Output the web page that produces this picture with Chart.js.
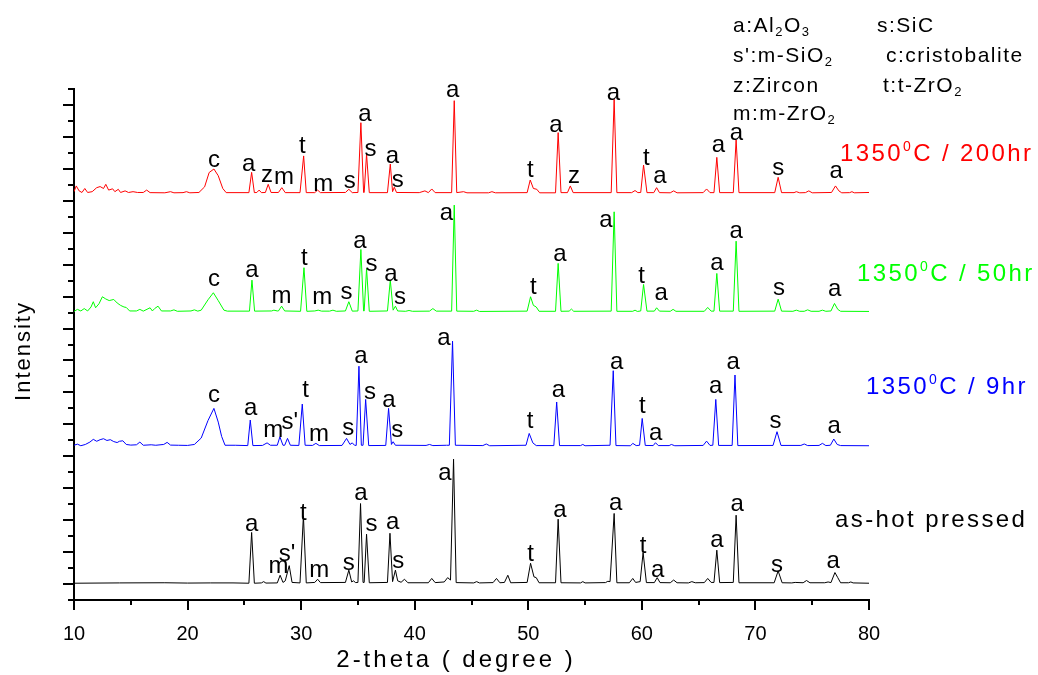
<!DOCTYPE html>
<html>
<head>
<meta charset="utf-8">
<script src="https://cdn.jsdelivr.net/npm/chart.js@4.4.1/dist/chart.umd.min.js"></script>
<style>
  body { margin: 0; background: #fff; }
  canvas { display: block; }
</style>
</head>
<body>
<canvas id="xrdChart" width="1038" height="675"></canvas>
<script>
// X-ray patterns, [2-theta, intensity above the trace's own baseline]
const asHotPressed = [
  [10,0],[14,0.02],[18,0.03],[20,0.01],[22,0.02],[24,0.02],[25.4,0],[25.64,3.18],[25.88,0],
  [26.5,0.02],[26.7,0.1],[26.9,0.01],[27.9,0.02],[28.15,0.5],[28.4,0.05],[28.6,0.15],[28.95,1.1],
  [29.2,0.05],[29.9,0.02],[30.2,4.22],[30.45,0.02],[31.2,0.05],[31.45,0.25],[31.7,0.04],[33.9,0.05],
  [34.2,0.82],[34.45,0.08],[34.6,0.15],[34.8,0.04],[35.0,0.05],[35.23,4.99],[35.45,0.05],[35.55,0.05],
  [35.76,3.07],[36.0,0.03],[37.6,0.05],[37.82,3.13],[38.05,0.1],[38.3,0.82],[38.5,0.15],[38.8,0.06],
  [39.1,0.25],[39.4,0.03],[41.2,0.03],[41.5,0.3],[41.8,0.04],[42.6,0.08],[42.9,0.35],[43.15,0.2],
  [43.42,7.77],[43.65,0.04],[45.2,0.02],[45.45,0.1],[45.7,0.02],[46.9,0.04],[47.2,0.3],[47.5,0.03],
  [47.9,0.05],[48.2,0.5],[48.45,0.03],[49.9,0.05],[50.2,1.25],[50.5,0.4],[50.7,0.35],[50.95,0.03],
  [52.4,0.03],[52.63,4.01],[52.88,0.03],[54.6,0.02],[54.8,0.1],[55.0,0.02],[56.8,0.04],[57.0,0.12],
  [57.2,0.1],[57.56,4.37],[57.8,0.03],[58.9,0.03],[59.2,0.3],[59.45,0.05],[59.85,0.1],[60.11,1.92],
  [60.4,0.04],[61.1,0.04],[61.35,0.35],[61.6,0.04],[62.5,0.03],[62.8,0.2],[63.1,0.03],[64.1,0.02],
  [64.4,0.1],[64.7,0.03],[65.5,0.04],[65.8,0.3],[66.1,0.05],[66.35,0.05],[66.6,2.07],[66.85,0.04],
  [68.05,0.05],[68.3,4.26],[68.55,0.03],[71.65,0.03],[72.0,0.77],[72.35,0.03],[73.2,0.02],[73.5,0.05],
  [74.2,0.03],[74.5,0.17],[74.8,0.03],[76.1,0.03],[76.4,0.08],[76.65,0.04],[77.0,0.67],[77.25,0.35],
  [77.5,0.03],[78.2,0.03],[78.4,0.08],[78.6,0.02],[80,0]
];

const at1350For9h = [
  [10,0.05],[10.3,0.12],[10.6,0.02],[11.0,0.1],[11.4,0.25],[11.7,0.42],[12.0,0.3],[12.3,0.4],[12.6,0.46],
  [12.9,0.35],[13.2,0.4],[13.5,0.28],[13.8,0.22],[14.0,0.3],[14.3,0.33],[14.6,0.1],[15.0,0.06],[15.5,0.08],
  [15.8,0.25],[16.1,0.05],[16.8,0.08],[17.2,0.05],[17.9,0.1],[18.2,0.23],[18.5,0.06],[19.2,0.05],[20.0,0.04],
  [20.6,0.1],[21.2,0.5],[21.8,1.6],[22.32,2.36],[22.7,1.5],[23.0,0.6],[23.3,0.05],[24.2,0.05],[25.3,0.03],
  [25.52,1.63],[25.75,0.03],[26.6,0.04],[27.0,0.2],[27.3,0.05],[27.9,0.05],[28.13,0.58],[28.4,0.05],
  [28.55,0.05],[28.8,0.48],[29.05,0.05],[29.8,0.04],[30.1,2.63],[30.35,0.05],[31.0,0.04],[31.3,0.17],
  [31.6,0.03],[33.6,0.04],[34.0,0.48],[34.3,0.1],[34.5,0.2],[34.7,0.05],[34.85,0.04],[35.09,5.0],[35.3,0.05],
  [35.45,0.05],[35.68,2.92],[35.95,0.03],[37.45,0.04],[37.7,2.36],[37.95,0.1],[38.1,0.27],[38.3,0.05],
  [41.0,0.04],[41.3,0.1],[41.6,0.03],[42.8,0.05],[43.05,0.05],[43.33,6.57],[43.58,0.05],[46.0,0.03],
  [46.3,0.13],[46.6,0.02],[49.8,0.05],[50.08,0.79],[50.4,0.2],[50.7,0.03],[52.25,0.03],[52.5,2.76],
  [52.75,0.03],[54.6,0.03],[54.8,0.1],[55.0,0.02],[57.2,0.05],[57.48,4.72],[57.72,0.03],[59.0,0.02],
  [59.2,0.17],[59.5,0.03],[59.8,0.05],[60.03,1.73],[60.3,0.04],[61.0,0.03],[61.2,0.21],[61.45,0.03],
  [62.4,0.03],[62.6,0.1],[62.9,0.02],[65.4,0.04],[65.7,0.31],[66.0,0.04],[66.25,0.05],[66.51,2.92],
  [66.76,0.04],[67.95,0.04],[68.2,4.45],[68.45,0.03],[71.55,0.04],[71.9,0.9],[72.25,0.04],[74.0,0.04],
  [74.3,0.13],[74.6,0.03],[75.6,0.04],[75.9,0.17],[76.2,0.03],[76.6,0.05],[76.9,0.44],[77.2,0.1],
  [77.5,0.03],[80,0.02]
];

const at1350For50h = [
  [10,0.02],[10.3,0.15],[10.6,0.05],[10.9,0.2],[11.2,0.05],[11.5,0.3],[11.7,0.63],[11.9,0.25],[12.2,0.5],
  [12.5,0.94],[12.8,0.8],[13.1,0.7],[13.5,0.77],[13.8,0.55],[14.1,0.4],[14.4,0.3],[14.6,0.27],[14.9,0.05],
  [15.5,0.05],[15.8,0.15],[16.1,0.04],[16.7,0.25],[16.9,0.05],[17.1,0.2],[17.4,0.35],[17.7,0.05],[18.5,0.05],
  [18.8,0.12],[19.1,0.03],[20.3,0.05],[20.6,0.12],[20.9,0.04],[21.2,0.1],[21.8,0.75],[22.27,1.19],[22.7,0.7],
  [23.2,0.1],[23.5,0.04],[25.45,0.04],[25.67,1.98],[25.9,0.04],[27.4,0.05],[27.6,0.1],[27.9,0.05],[28.0,0.05],
  [28.28,0.35],[28.55,0.05],[29.95,0.03],[30.25,2.76],[30.5,0.03],[31.2,0.05],[31.5,0.1],[31.8,0.04],
  [32.5,0.04],[32.8,0.1],[33.1,0.03],[33.9,0.05],[34.2,0.63],[34.5,0.04],[35.0,0.05],[35.26,3.9],[35.5,0.05],
  [35.55,0.05],[35.76,2.71],[36.0,0.03],[37.6,0.05],[37.85,1.98],[38.1,0.1],[38.3,0.35],[38.5,0.05],
  [39.2,0.03],[39.5,0.08],[39.8,0.03],[41.3,0.04],[41.6,0.2],[41.9,0.04],[43.25,0.04],[43.48,6.68],
  [43.7,0.04],[45.2,0.03],[45.45,0.1],[45.7,0.02],[49.9,0.04],[50.2,0.94],[50.45,0.4],[50.7,0.3],
  [50.95,0.03],[52.4,0.03],[52.63,3.03],[52.88,0.03],[53.6,0.04],[53.8,0.17],[54.0,0.03],[57.3,0.04],
  [57.56,6.26],[57.8,0.03],[59.2,0.03],[59.4,0.1],[59.6,0.02],[59.9,0.05],[60.15,1.71],[60.45,0.04],
  [61.1,0.04],[61.3,0.25],[61.55,0.04],[62.5,0.03],[62.75,0.15],[63.0,0.03],[65.5,0.03],[65.8,0.27],
  [66.1,0.04],[66.35,0.04],[66.6,2.4],[66.85,0.04],[68.05,0.04],[68.3,4.42],[68.55,0.03],[71.7,0.04],
  [72.0,0.79],[72.3,0.04],[73.3,0.03],[73.6,0.1],[73.9,0.03],[74.3,0.03],[74.6,0.12],[74.9,0.03],
  [75.6,0.03],[75.9,0.1],[76.2,0.03],[76.65,0.05],[76.96,0.52],[77.25,0.15],[77.5,0.03],[80,0.02]
];

const at1350For200h = [
  [10,0.1],[10.2,0.46],[10.45,0.15],[10.7,0.05],[10.95,0.3],[11.2,0.05],[11.6,0.1],[12.0,0.35],[12.3,0.42],
  [12.6,0.3],[12.8,0.56],[13.05,0.2],[13.4,0.28],[13.6,0.1],[13.9,0.25],[14.1,0.05],[14.5,0.15],[14.8,0.05],
  [15.2,0.1],[15.6,0.05],[16.1,0.05],[16.4,0.2],[16.7,0.04],[18.0,0.03],[18.5,0.1],[18.8,0.03],[19.6,0.04],
  [19.9,0.1],[20.2,0.03],[21.0,0.05],[21.5,0.4],[21.9,1.3],[22.32,1.52],[22.7,1.1],[23.1,0.3],[23.4,0.04],
  [25.4,0.04],[25.64,1.31],[25.88,0.04],[26.1,0.05],[26.3,0.2],[26.5,0.04],[26.85,0.05],[27.1,0.56],
  [27.35,0.05],[28.0,0.05],[28.3,0.35],[28.6,0.04],[29.9,0.04],[30.22,2.34],[30.45,0.04],[31.2,0.04],
  [31.45,0.2],[31.7,0.04],[33.9,0.05],[34.2,0.25],[34.5,0.04],[35.0,0.05],[35.26,4.42],[35.5,0.05],
  [35.55,0.05],[35.76,2.46],[36.0,0.04],[37.6,0.04],[37.85,1.83],[38.05,0.1],[38.2,0.38],[38.4,0.05],
  [40.4,0.04],[40.9,0.15],[41.2,0.04],[41.5,0.27],[41.8,0.04],[43.25,0.04],[43.48,5.8],[43.7,0.04],
  [44.3,0.1],[44.6,0.03],[46.5,0.03],[46.8,0.1],[47.1,0.03],[49.9,0.04],[50.17,0.83],[50.45,0.3],
  [50.75,0.25],[51.0,0.03],[52.4,0.03],[52.63,3.8],[52.88,0.04],[53.45,0.04],[53.7,0.46],[53.95,0.04],
  [57.3,0.04],[57.56,5.89],[57.8,0.04],[59.1,0.04],[59.4,0.17],[59.65,0.04],[59.9,0.05],[60.15,1.77],
  [60.45,0.04],[61.05,0.04],[61.3,0.35],[61.55,0.04],[62.5,0.03],[62.8,0.15],[63.1,0.03],[65.4,0.04],
  [65.7,0.27],[66.0,0.04],[66.35,0.04],[66.6,2.25],[66.85,0.04],[68.05,0.04],[68.3,3.34],[68.55,0.04],
  [71.7,0.04],[72.0,1.0],[72.3,0.04],[73.4,0.04],[73.6,0.1],[73.9,0.03],[74.4,0.04],[74.7,0.15],
  [75.0,0.03],[76.7,0.05],[77.05,0.46],[77.35,0.15],[77.6,0.03],[78.3,0.04],[78.5,0.1],[78.7,0.03],[80,0.05]
];

// Peak labels, [2-theta, height above baseline, phase letter]
const hotPressedLabels = [
  [25.64,3.27,'a'],[28.0,0.63,'m'],[28.75,1.4,"s'"],[30.2,3.96,'t'],[31.6,0.41,'m'],[34.2,0.83,'s'],
  [35.26,5.22,'a'],[36.2,3.27,'s'],[38.05,3.4,'a'],[38.55,0.94,'s'],[42.66,6.47,'a'],[50.2,1.4,'t'],
  [52.78,4.17,'a'],[57.7,4.59,'a'],[60.1,1.88,'t'],[61.4,0.38,'a'],[66.6,2.29,'a'],[68.4,4.5,'a'],
  [71.9,0.73,'s'],[76.85,0.94,'a']
];
const labels9h = [
  [22.33,2.77,'c'],[25.56,1.94,'a'],[27.55,0.54,'m'],[29.0,1.05,"s'"],[30.4,3.09,'t'],[31.57,0.31,'m'],
  [34.15,0.69,'s'],[35.27,5.18,'a'],[36.06,2.92,'s'],[37.74,2.46,'a'],[38.47,0.54,'s'],[42.58,6.32,'a'],
  [50.15,1.11,'t'],[52.65,3.09,'a'],[57.78,4.8,'a'],[60.04,2.09,'t'],[61.22,0.38,'a'],[66.5,3.3,'a'],
  [68.05,4.8,'a'],[71.77,1.11,'s'],[76.94,0.83,'a']
];
const labels50h = [
  [22.33,1.61,'c'],[25.67,2.15,'a'],[28.28,0.53,'m'],[30.28,2.92,'t'],[31.86,0.48,'m'],[34.0,0.78,'s'],
  [35.18,3.97,'a'],[36.2,2.55,'s'],[37.9,1.92,'a'],[38.7,0.48,'s'],[42.8,5.74,'a'],[50.44,1.09,'t'],
  [52.78,3.17,'a'],[56.83,5.32,'a'],[59.98,1.82,'t'],[61.7,0.73,'a'],[66.6,2.61,'a'],[68.3,4.6,'a'],
  [72.08,1.05,'s'],[76.98,0.98,'a']
];
const labels200h = [
  [22.33,1.63,'c'],[25.38,1.42,'a'],[27.0,0.69,'z'],[28.5,0.58,'m'],[30.1,2.54,'t'],[31.95,0.16,'m'],
  [34.27,0.31,'s'],[35.62,4.55,'a'],[36.1,2.34,'s'],[38.03,1.88,'a'],[38.5,0.41,'s'],[43.34,6.05,'a'],
  [50.17,1.04,'t'],[52.44,3.86,'a'],[54.03,0.63,'z'],[57.5,5.84,'a'],[60.4,1.77,'t'],[61.6,0.63,'a'],
  [66.75,2.6,'a'],[68.33,3.34,'a'],[72.0,1.15,'s'],[77.1,0.94,'a']
];

// Stacking offsets of the four patterns (in tick intervals)
const sampleNames = ['as-hot pressed', '1350^0C / 9hr', '1350^0C / 50hr', '1350^0C / 200hr'];
const sampleOffsets = [0.05, 8.64, 17.05, 24.47];
const sampleColors = ['#000000', '#0000ff', '#00ff00', '#ff0000'];
const samplePatterns = [asHotPressed, at1350For9h, at1350For50h, at1350For200h];
const sampleLabels = [hotPressedLabels, labels9h, labels50h, labels200h];

const xTicks = [10, 20, 30, 40, 50, 60, 70, 80];
const xTitle = '2-theta ( degree )';
const yTitle = 'Intensity';
const phaseKey = [
  ['a:Al_2O_3', 733, 32], ['s:SiC', 877, 32],
  ["s':m-SiO_2", 733, 62], ['c:cristobalite', 886, 62],
  ['z:Zircon', 733, 92], ['t:t-ZrO_2', 883, 92],
  ['m:m-ZrO_2', 733, 120]
];
// where each sample name sits (page pixels)
const namePositions = [[835, 527], [866, 394], [857, 281], [840, 161]];

const FONT = '"Liberation Sans", Arial, sans-serif';

// text with _x subscripts and ^x superscripts
function drawRich(ctx, text, x, y, size, color, spacing) {
  ctx.save();
  ctx.fillStyle = color;
  ctx.textAlign = 'left';
  ctx.textBaseline = 'alphabetic';
  ctx.letterSpacing = spacing + 'px';
  let cx = x;
  let i = 0;
  while (i < text.length) {
    let ch = text[i];
    let dy = 0;
    let s = size;
    if ((ch === '_' || ch === '^') && i + 1 < text.length) {
      s = Math.round(size * 0.6);
      dy = ch === '_' ? size * 0.2 : -size * 0.4;
      ch = text[i + 1];
      i++;
    }
    ctx.font = s + 'px ' + FONT;
    ctx.fillText(ch, cx, y + dy);
    cx += ctx.measureText(ch).width;
    i++;
  }
  ctx.restore();
}

const xrdDecorations = {
  id: 'xrdDecorations',
  afterDraw(chart) {
    const ctx = chart.ctx;
    const xs = chart.scales.x;
    const ys = chart.scales.y;
    const area = chart.chartArea;

    // tick marks
    ctx.save();
    ctx.strokeStyle = '#000';
    ctx.lineWidth = 2;
    ctx.beginPath();
    ys.ticks.forEach(t => {
      const y = Math.round(ys.getPixelForValue(t.value));
      const len = t.value % 2 === 0 ? 11 : 6;
      ctx.moveTo(area.left, y);
      ctx.lineTo(area.left - len, y);
    });
    xs.ticks.forEach(t => {
      const x = Math.round(xs.getPixelForValue(t.value));
      const len = t.value % 10 === 0 ? 10 : 5;
      ctx.moveTo(x, area.bottom);
      ctx.lineTo(x, area.bottom + len);
    });
    ctx.stroke();
    ctx.restore();

    // axis titles
    ctx.save();
    ctx.fillStyle = '#000';
    ctx.textAlign = 'center';
    ctx.textBaseline = 'middle';
    ctx.font = '24px ' + FONT;
    ctx.letterSpacing = '3px';
    ctx.fillText(xTitle, 456, 660);
    ctx.translate(24, 351);
    ctx.rotate(-Math.PI / 2);
    ctx.font = '22px ' + FONT;
    ctx.letterSpacing = '2px';
    ctx.fillText(yTitle, 0, 0);
    ctx.restore();

    // phase letters over peaks
    ctx.save();
    ctx.fillStyle = '#000';
    ctx.font = '24px ' + FONT;
    ctx.textAlign = 'center';
    ctx.textBaseline = 'alphabetic';
    sampleLabels.forEach((list, k) => {
      list.forEach(([deg, h, txt]) => {
        ctx.fillText(txt, xs.getPixelForValue(deg), ys.getPixelForValue(sampleOffsets[k] + h));
      });
    });
    ctx.restore();

    // sample names
    sampleNames.forEach((name, k) => {
      drawRich(ctx, name, namePositions[k][0], namePositions[k][1], 24, sampleColors[k], 2.4);
    });

    // phase key
    phaseKey.forEach(([txt, x, y]) => drawRich(ctx, txt, x, y, 21, '#000', 1.5));
  }
};

const datasets = samplePatterns.map((pattern, k) => ({
  label: sampleNames[k],
  data: pattern.map(p => ({ x: p[0], y: p[1] + sampleOffsets[k] })),
  borderColor: sampleColors[k],
  borderWidth: 1,
  pointRadius: 0,
  tension: 0,
  fill: false
}));

new Chart(document.getElementById('xrdChart'), {
  type: 'line',
  data: { datasets },
  options: {
    responsive: false,
    animation: false,
    layout: { padding: { left: 0, right: 169, top: 89, bottom: 0 } },
    plugins: { legend: { display: false }, tooltip: { enabled: false } },
    scales: {
      x: {
        type: 'linear',
        min: 10,
        max: 80,
        afterBuildTicks: scale => {
          const ticks = [];
          for (let v = 10; v <= 80; v += 5) ticks.push({ value: v });
          scale.ticks = ticks;
        },
        ticks: {
          autoSkip: false,
          maxRotation: 0,
          padding: 22,
          color: '#000',
          font: { family: FONT, size: 20 },
          callback: v => (xTicks.includes(v) ? String(v) : '')
        },
        grid: { drawOnChartArea: false, drawTicks: false },
        border: { color: '#000', width: 2 },
        afterFit: scale => { scale.height = 75; }
      },
      y: {
        min: -1,
        max: 31,
        ticks: { display: false, stepSize: 1 },
        grid: { drawOnChartArea: false, drawTicks: false },
        border: { color: '#000', width: 2 },
        afterFit: scale => { scale.width = 74; }
      }
    }
  },
  plugins: [xrdDecorations]
});
</script>
</body>
</html>
